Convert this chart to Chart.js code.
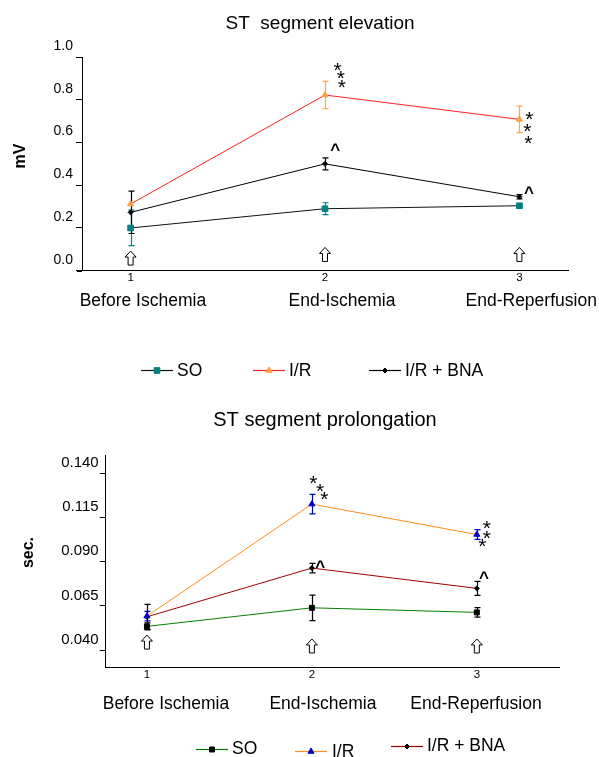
<!DOCTYPE html>
<html><head><meta charset="utf-8">
<script src="https://cdn.jsdelivr.net/npm/chart.js@4.4.1/dist/chart.umd.min.js"></script>
<style>
html,body{margin:0;padding:0;background:#fff;width:599px;height:757px;overflow:hidden}
.wrap{position:absolute;left:0;width:599px}
canvas{display:block}
</style></head><body>
<div class="wrap" style="top:0;height:400px"><canvas id="c1" width="599" height="400"></canvas></div>
<div class="wrap" style="top:400px;height:357px"><canvas id="c2" width="599" height="357"></canvas></div>
<script>
// ---------- data ----------
const categories = ['Before Ischemia', 'End-Ischemia', 'End-Reperfusion'];
const xTickLabels = ['1', '2', '3'];
const seriesNames = ['SO', 'I/R', 'I/R + BNA'];

// ST segment elevation (mV)
const elevSO = [0.200, 0.290, 0.304];
const elevSOErr = [0.083, 0.028, 0.010];
const elevIR = [0.312, 0.822, 0.708];
const elevIRErr = [0.000, 0.064, 0.062];
const elevBNA = [0.273, 0.500, 0.346];
const elevBNAErr = [0.099, 0.028, 0.010];
const elevTicks = [0.0, 0.2, 0.4, 0.6, 0.8, 1.0];
const elevStars = [[2.065, 0.963], [2.081, 0.925], [2.087, 0.883], [3.051, 0.733], [3.041, 0.679], [3.046, 0.621]];
const elevCarets = [[2.053, 0.584], [3.049, 0.382]];
const elevArrows = [[1, 0.059], [2, 0.076], [3, 0.076]];

// ST segment prolongation (sec)
const prolSO = [0.0534, 0.0639, 0.0613];
const prolSOErr = [0.0020, 0.0072, 0.0027];
const prolIR = [0.0592, 0.1226, 0.1054];
const prolIRErr = [0.0027, 0.0055, 0.0028];
const prolBNA = [0.0588, 0.0864, 0.0749];
const prolBNAErr = [0.0071, 0.0027, 0.0040];
const prolTicks = [0.040, 0.065, 0.090, 0.115, 0.140];
const prolStars = [[2.009, 0.1377], [2.050, 0.1332], [2.076, 0.1282], [3.060, 0.1122], [3.060, 0.1063], [3.034, 0.1017]];
const prolCarets = [[2.050, 0.0894], [3.044, 0.0828]];
const prolArrows = [[1, 0.0445], [2, 0.0423], [3, 0.0423]];

// ---------- drawing ----------
const FF = '"Liberation Sans", Arial, Helvetica, sans-serif';

function drawArrow(ctx, cx, cy) {
  const w = 11, h = 14, hh = 6, sw = 2.5;
  const t = cy - h / 2, b = cy + h / 2;
  ctx.save();
  ctx.beginPath();
  ctx.moveTo(cx, t);
  ctx.lineTo(cx + w / 2, t + hh);
  ctx.lineTo(cx + sw, t + hh);
  ctx.lineTo(cx + sw, b);
  ctx.lineTo(cx - sw, b);
  ctx.lineTo(cx - sw, t + hh);
  ctx.lineTo(cx - w / 2, t + hh);
  ctx.closePath();
  ctx.fillStyle = '#fff';
  ctx.fill();
  ctx.lineWidth = 1;
  ctx.strokeStyle = '#000';
  ctx.stroke();
  ctx.restore();
}

function makeChart(id, o) {
  const datasets = o.series.map(s => ({
    label: s.name,
    data: s.values.map((v, j) => ({ x: j + 1, y: v })),
    err: s.err,
    errColor: s.errColor,
    borderColor: s.line,
    backgroundColor: s.marker,
    borderWidth: 1,
    pointStyle: s.style,
    pointRadius: s.r,
    pointBackgroundColor: s.marker,
    pointBorderColor: s.marker,
    pointBorderWidth: 1,
    fill: false,
    tension: 0
  }));

  const deco = {
    id: 'deco' + id,
    beforeDatasetsDraw(chart) {
      const ctx = chart.ctx, xs = chart.scales.x, ys = chart.scales.y;
      chart.data.datasets.forEach(ds => {
        ds.data.forEach((p, j) => {
          const e = ds.err[j];
          if (!e) return;
          const x = Math.round(xs.getPixelForValue(p.x)) + 0.5;
          const y1 = ys.getPixelForValue(p.y + e), y2 = ys.getPixelForValue(p.y - e);
          ctx.save();
          ctx.strokeStyle = ds.errColor;
          ctx.lineWidth = 1.2;
          ctx.beginPath();
          ctx.moveTo(x, y1); ctx.lineTo(x, y2);
          ctx.moveTo(x - 3, y1); ctx.lineTo(x + 3, y1);
          ctx.moveTo(x - 3, y2); ctx.lineTo(x + 3, y2);
          ctx.stroke();
          ctx.restore();
        });
      });
    },
    afterDraw(chart) {
      const ctx = chart.ctx, xs = chart.scales.x, ys = chart.scales.y, ca = chart.chartArea;
      ctx.save();
      ctx.fillStyle = '#000';
      if (o.xExtend) {
        ctx.strokeStyle = '#000'; ctx.lineWidth = 1;
        ctx.beginPath();
        ctx.moveTo(ca.left - o.xExtend, Math.round(ca.bottom) + 0.5);
        ctx.lineTo(ca.left, Math.round(ca.bottom) + 0.5);
        ctx.stroke();
      }
      // title
      ctx.font = o.titleSize + 'px ' + FF;
      ctx.textAlign = 'center'; ctx.textBaseline = 'alphabetic';
      ctx.fillText(o.title, o.titleX, o.titleY);
      // y-axis title
      ctx.save();
      ctx.translate(o.yTitleX, o.yTitleY);
      ctx.rotate(-Math.PI / 2);
      ctx.font = 'bold ' + o.yTitleSize + 'px ' + FF;
      ctx.textAlign = 'center'; ctx.textBaseline = 'alphabetic';
      ctx.fillText(o.yTitle, 0, 0);
      ctx.restore();
      // category labels
      ctx.font = '17.5px ' + FF;
      ctx.textAlign = 'center'; ctx.textBaseline = 'middle';
      categories.forEach((c, i) => {
        ctx.fillText(c, xs.getPixelForValue(i + 1) + o.catShift[i], ca.bottom + o.catDy);
      });
      // stars
      const ss = 21;
      ctx.font = ss + 'px ' + FF;
      ctx.textAlign = 'center'; ctx.textBaseline = 'alphabetic';
      o.stars.forEach(([x, y]) => {
        ctx.fillText('*', xs.getPixelForValue(x), ys.getPixelForValue(y) + 0.58 * ss);
      });
      ctx.font = 'bold 17px ' + FF;
      o.carets.forEach(([x, y]) => {
        ctx.fillText('^', xs.getPixelForValue(x), ys.getPixelForValue(y) + 9);
      });
      // arrows
      o.arrows.forEach(([x, y]) => drawArrow(ctx, xs.getPixelForValue(x), ys.getPixelForValue(y)));
      // legend
      ctx.font = '17.5px ' + FF;
      ctx.textAlign = 'left'; ctx.textBaseline = 'middle';
      chart.data.datasets.forEach((ds, i) => {
        const L = o.legend[i];
        ctx.strokeStyle = ds.borderColor; ctx.lineWidth = 1.2;
        ctx.beginPath();
        ctx.moveTo(L.x1, L.y + 0.5); ctx.lineTo(L.x2, L.y + 0.5);
        ctx.stroke();
        ctx.fillStyle = ds.pointBackgroundColor;
        ctx.strokeStyle = ds.pointBorderColor;
        ctx.lineWidth = 1;
        Chart.helpers.drawPoint(ctx, { pointStyle: ds.pointStyle, radius: ds.pointRadius, borderWidth: 1, rotation: 0 }, (L.x1 + L.x2) / 2, L.y + 0.5);
        ctx.fillStyle = '#000';
        ctx.fillText(ds.label, L.tx, L.ty);
      });
      ctx.restore();
    }
  };

  return new Chart(document.getElementById(id), {
    type: 'line',
    data: { datasets },
    options: {
      responsive: false,
      animation: false,
      devicePixelRatio: 1,
      layout: { padding: o.padding },
      plugins: { legend: { display: false }, tooltip: { enabled: false }, title: { display: false } },
      scales: {
        x: {
          type: 'linear', min: 0.75, max: o.xMax,
          afterBuildTicks: s => { s.ticks = xTickLabels.map((t, i) => ({ value: i + 1 })); },
          afterFit: s => { s.height = 30; },
          ticks: {
            callback: (v, i) => xTickLabels[i],
            font: { size: 11.5, family: FF }, color: '#000', padding: 0,
            maxRotation: 0, autoSkip: false
          },
          grid: { display: true, drawOnChartArea: false, drawTicks: false, color: '#000' },
          border: { display: true, color: '#000', width: 1 }
        },
        y: {
          type: 'linear', min: o.yMin, max: o.yMax,
          afterBuildTicks: s => { s.ticks = o.yTicks.map(v => ({ value: v })); },
          afterFit: s => { s.width = o.yAxisW; },
          ticks: {
            callback: (v) => Number(v).toFixed(o.dec),
            font: { size: o.tickSize, family: FF }, color: '#000',
            padding: o.tickPad, labelOffset: o.labelOffset, autoSkip: false
          },
          grid: { display: true, drawOnChartArea: false, drawTicks: true, tickLength: 6, color: '#000' },
          border: { display: true, color: '#000', width: 1 }
        }
      }
    },
    plugins: [deco]
  });
}

makeChart('c1', {
  series: [
    { name: seriesNames[0], values: elevSO, err: elevSOErr, line: '#111111', marker: '#008080', errColor: '#008080', style: 'rect', r: 4 },
    { name: seriesNames[1], values: elevIR, err: elevIRErr, line: '#ff2020', marker: '#ffa040', errColor: '#ffa64d', style: 'triangle', r: 3.5 },
    { name: seriesNames[2], values: elevBNA, err: elevBNAErr, line: '#000000', marker: '#000000', errColor: '#000000', style: 'rectRot', r: 2.5 }
  ],
  padding: { left: 32, right: 31, top: 57, bottom: 99.3 },
  yAxisW: 50,
  xMax: 3.25, xExtend: 5,
  yMin: 0, yMax: 1.0, yTicks: elevTicks, dec: 1, tickSize: 14, tickPad: 3, labelOffset: -11,
  title: 'ST  segment elevation', titleSize: 19, titleX: 320, titleY: 29,
  yTitle: 'mV', yTitleSize: 16, yTitleX: 25, yTitleY: 156,
  catShift: [12.3, 17, 11.8], catDy: 30,
  stars: elevStars, carets: elevCarets, arrows: elevArrows,
  legend: [
    { x1: 141, x2: 173, y: 370, tx: 177, ty: 371 },
    { x1: 253, x2: 285, y: 370, tx: 289, ty: 371 },
    { x1: 369, x2: 401, y: 370, tx: 405, ty: 371 }
  ]
});

makeChart('c2', {
  series: [
    { name: seriesNames[0], values: prolSO, err: prolSOErr, line: '#008000', marker: '#000000', errColor: '#000000', style: 'rect', r: 3.5 },
    { name: seriesNames[1], values: prolIR, err: prolIRErr, line: '#ff8c1a', marker: '#0000cc', errColor: '#0000cc', style: 'triangle', r: 3.5 },
    { name: seriesNames[2], values: prolBNA, err: prolBNAErr, line: '#a00000', marker: '#000000', errColor: '#000000', style: 'rectRot', r: 2.5 }
  ],
  padding: { left: 45.7, right: 39.7, top: 55.7, bottom: 59.3 },
  yAxisW: 60,
  xMax: 3.5, xExtend: 0,
  yMin: 0.03, yMax: 0.15, yTicks: prolTicks, dec: 3, tickSize: 15, tickPad: 1, labelOffset: -10.5,
  title: 'ST segment prolongation', titleSize: 20, titleX: 325, titleY: 26,
  yTitle: 'sec.', yTitleSize: 16, yTitleX: 33, yTitleY: 152.5,
  catShift: [19, 11, -0.8], catDy: 36.6,
  stars: prolStars, carets: prolCarets, arrows: prolArrows,
  legend: [
    { x1: 196, x2: 228, y: 349, tx: 232, ty: 349.5 },
    { x1: 295, x2: 327, y: 351, tx: 332, ty: 352 },
    { x1: 391, x2: 423, y: 346, tx: 427, ty: 346.5 }
  ]
});
</script>
</body></html>
